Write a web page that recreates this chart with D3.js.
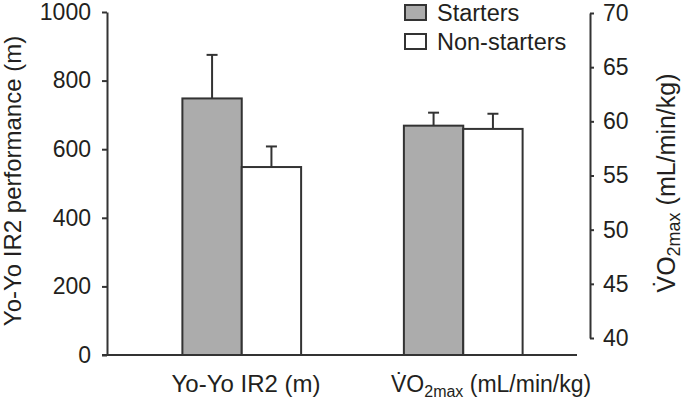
<!DOCTYPE html>
<html>
<head>
<meta charset="utf-8">
<script src="https://cdn.jsdelivr.net/npm/d3@7"></script>
<style>
  html, body { margin: 0; padding: 0; background: #fff; }
  svg { display: block; }
  text { font-family: "Liberation Sans", Arial, Helvetica, sans-serif; fill: #231f20; }
</style>
</head>
<body>
<svg id="chart" width="685" height="406"></svg>
<script>
// ---- data ----
const categories = ["Yo-Yo IR2 (m)", "VO2max (mL/min/kg)"];
const seriesNames = ["Starters", "Non-starters"];
const startersMean = [748, 59.6];
const startersSD = [127, 1.2];
const nonStartersMean = [548, 59.3];
const nonStartersSD = [60, 1.4];
const leftTicks = [0, 200, 400, 600, 800, 1000];
const rightTicks = [40, 45, 50, 55, 60, 65, 70];
const seriesFill = ["#acacac", "#ffffff"];

const svg = d3.select("#chart");
const ink = "#333";

const yL = d3.scaleLinear().domain([0, 1000]).range([355, 12]);
const yR = d3.scaleLinear().domain([40, 70]).range([338, 13]);
const x = d3.scaleBand().domain(categories).range([131, 574]).paddingInner(0.464).paddingOuter(0.232);
const xs = d3.scaleBand().domain(seriesNames).range([0, x.bandwidth()]).padding(0);
const yFor = (ci) => ci === 0 ? yL : yR;

// baseline
svg.append("line")
  .attr("x1", 102).attr("x2", 577)
  .attr("y1", yL(0)).attr("y2", yL(0))
  .attr("stroke", ink).attr("stroke-width", 2);

// left axis
const gL = svg.append("g").attr("transform", "translate(107,0)")
  .call(d3.axisLeft(yL).tickValues(leftTicks).tickSize(5).tickSizeOuter(0).tickPadding(11).tickFormat(d3.format("d")));
gL.selectAll("path, line").attr("stroke", ink).attr("stroke-width", 2);
gL.selectAll("text").attr("font-size", 23).attr("fill", "#231f20");

// right axis
const gR = svg.append("g").attr("transform", "translate(590,0)")
  .call(d3.axisRight(yR).tickValues(rightTicks).tickSize(4).tickSizeOuter(0).tickPadding(9));
gR.selectAll("path, line").attr("stroke", ink).attr("stroke-width", 2);
gR.selectAll("text").attr("font-size", 23).attr("fill", "#231f20");
svg.selectAll(".domain").attr("fill", "none");
svg.selectAll("g").attr("font-family", null);

// bars
const rows = [];
categories.forEach((c, ci) => {
  rows.push({c, ci, s: seriesNames[0], si: 0, v: startersMean[ci], sd: startersSD[ci]});
  rows.push({c, ci, s: seriesNames[1], si: 1, v: nonStartersMean[ci], sd: nonStartersSD[ci]});
});

const bars = svg.append("g");
rows.forEach(r => {
  const y = yFor(r.ci);
  const cx = x(r.c) + xs(r.s) + xs.bandwidth() / 2;
  bars.append("line").attr("x1", cx).attr("x2", cx)
    .attr("y1", y(r.v)).attr("y2", y(r.v + r.sd))
    .attr("stroke", ink).attr("stroke-width", 2);
  bars.append("line").attr("x1", cx - 5.5).attr("x2", cx + 5.5)
    .attr("y1", y(r.v + r.sd)).attr("y2", y(r.v + r.sd))
    .attr("stroke", ink).attr("stroke-width", 2);
});
rows.forEach(r => {
  const y = yFor(r.ci);
  bars.append("rect")
    .attr("x", x(r.c) + xs(r.s))
    .attr("y", y(r.v))
    .attr("width", xs.bandwidth())
    .attr("height", yL(0) - y(r.v))
    .attr("fill", seriesFill[r.si])
    .attr("stroke", ink).attr("stroke-width", 2);
});

// x category labels
svg.append("text").attr("x", 246).attr("y", 392).attr("text-anchor", "middle")
  .attr("font-size", 24).text(categories[0]);
const t2 = svg.append("text").attr("x", 391).attr("y", 392).attr("font-size", 23);
t2.append("tspan").text("V\u0307O");
t2.append("tspan").attr("font-size", 16).attr("dy", 5).text("2max");
t2.append("tspan").attr("dy", -5).text(" (mL/min/kg)");

// left axis title
svg.append("text").attr("transform", "translate(21,181) rotate(-90)")
  .attr("text-anchor", "middle").attr("font-size", 24).text("Yo-Yo IR2 performance (m)");

// right axis title
const rt = svg.append("text").attr("transform", "translate(675,183) rotate(-90)")
  .attr("text-anchor", "middle").attr("font-size", 25);
rt.append("tspan").text("V\u0307O");
rt.append("tspan").attr("font-size", 18).attr("dy", 5).text("2max");
rt.append("tspan").attr("dy", -5).text(" (mL/min/kg)");

// legend
const lg = svg.append("g");
seriesNames.forEach((s, i) => {
  const yy = 5 + i * 29;
  lg.append("rect").attr("x", 405).attr("y", yy).attr("width", 21).attr("height", 15)
    .attr("fill", seriesFill[i]).attr("stroke", ink).attr("stroke-width", 2);
  lg.append("text").attr("x", 437).attr("y", yy + 16).attr("font-size", 23.5).text(s);
});
</script>
</body>
</html>
